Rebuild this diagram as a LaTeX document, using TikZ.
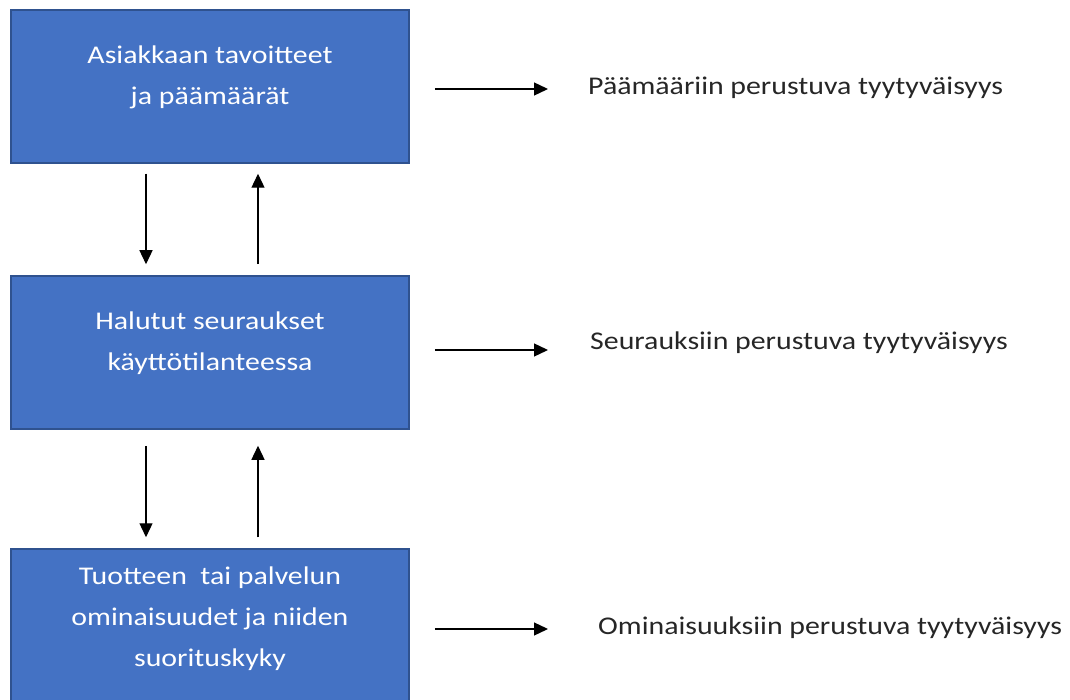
\documentclass[tikz,border=0pt]{standalone}
\usepackage{fontspec}
\setmainfont{Carlito}[FakeStretch=1.17]
\usetikzlibrary{arrows.meta}
\definecolor{boxFill}{RGB}{68, 114, 196}
\definecolor{boxEdge}{RGB}{47, 82, 143}

\begin{document}
\begin{tikzpicture}[x=1pt, y=-1pt,
  box/.style={draw=boxEdge, fill=boxFill, line width=1.5pt, minimum width=398pt, minimum height=153pt, inner sep=0pt},
  boxtext/.style={text=white, align=center, font=\fontsize{25.5}{41}\selectfont},
  outcome/.style={anchor=west, inner sep=0pt, text=black!85, font=\fontsize{25.5}{30}\selectfont},
  flow/.style={-{Triangle[length=14pt, width=13pt]}, line width=1.3pt}]
  \useasboundingbox (0,0) rectangle (1070,700);

  \node[box] (goals)   at (210, 86.5)  {};
  \node[box] (results) at (210, 352.5) {};
  \node[box] (traits)  at (210, 625.5) {};

  \node[boxtext] (goalstext)   at (210, 77)  {Asiakkaan tavoitteet\\ja päämäärät};
  \node[boxtext] (resultstext) at (210, 343) {Halutut seuraukset\\käyttötilanteessa};
  \node[boxtext] (traitstext)  at (210, 619) {Tuotteen\ \ tai palvelun\\ominaisuudet ja niiden\\suorituskyky};

  \node[outcome] (goalsout)   at (588, 88)  {Päämääriin perustuva tyytyväisyys};
  \node[outcome] (resultsout) at (590, 343) {Seurauksiin perustuva tyytyväisyys};
  \node[outcome] (traitsout)  at (598, 628) {Ominaisuuksiin perustuva tyytyväisyys};

  \draw[flow, shorten <=10pt, shorten >=11pt] ([xshift=-64pt]goals.south) -- ([xshift=-64pt]results.north);
  \draw[flow, shorten <=11pt, shorten >=10pt] ([xshift=48pt]results.north) -- ([xshift=48pt]goals.south);
  \draw[flow, shorten <=16pt, shorten >=11pt] ([xshift=-64pt]results.south) -- ([xshift=-64pt]traits.north);
  \draw[flow, shorten <=11pt, shorten >=16pt] ([xshift=48pt]traits.north) -- ([xshift=48pt]results.south);

  \draw[flow, shorten <=25pt, shorten >=40pt] ([yshift=-2.5pt]goals.east) -- ([yshift=-2.5pt]goals.east -| goalsout.west);
  \draw[flow, shorten <=25pt, shorten >=42pt] ([yshift=2.5pt]results.east) -- ([yshift=2.5pt]results.east -| resultsout.west);
  \draw[flow, shorten <=25pt, shorten >=50pt] ([yshift=-3.5pt]traits.east) -- ([yshift=-3.5pt]traits.east -| traitsout.west);

\end{tikzpicture}
\end{document}
